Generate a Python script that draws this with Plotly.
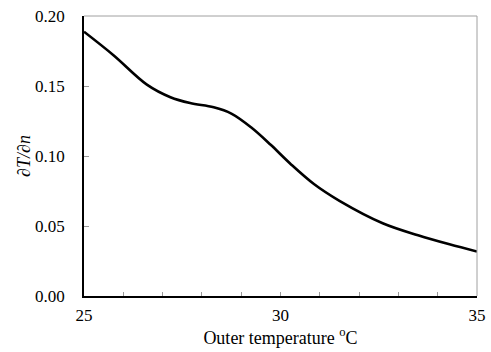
import plotly.graph_objects as go

temps = [25, 25.75, 26.6, 27.2, 27.7, 28.3, 28.75, 29.25, 29.75, 30.25, 30.85, 31.5, 32.6, 33.5, 34.3, 35]
dTdn = [0.1888, 0.172, 0.151, 0.142, 0.1378, 0.1348, 0.1303, 0.1205, 0.108, 0.0945, 0.0800, 0.0680, 0.0520, 0.0434, 0.0369, 0.0318]
x_ticks = [25, 30, 35]
y_ticks = [0.00, 0.05, 0.10, 0.15, 0.20]

font = "Liberation Serif"

fig = go.Figure()
fig.add_trace(go.Scatter(x=temps, y=dTdn, mode="lines",
                         line=dict(color="black", width=2.6, shape="spline", smoothing=1.0),
                         showlegend=False, hoverinfo="skip"))

fig.update_layout(
    width=491, height=352,
    margin=dict(l=84, r=14, t=16, b=56, autoexpand=False),
    paper_bgcolor="white", plot_bgcolor="white",
    font=dict(family=font, size=17, color="black"),
    xaxis=dict(range=[25, 35], tickvals=x_ticks, ticktext=[str(v) for v in x_ticks],
               tickfont=dict(family=font, size=17, color="black"),
               showgrid=False, zeroline=False, showline=True, linecolor="black", linewidth=1.6,
               ticks="inside", ticklen=4, tickcolor="#999999", tickwidth=1,
               minor=dict(dtick=1, ticks="inside", ticklen=4, tickcolor="#999999", tickwidth=1, showgrid=False),
               ticklabelstandoff=3, automargin=False,
               title=dict(text="Outer temperature <sup>o</sup>C", font=dict(family=font, size=18, color="black"), standoff=6)),
    yaxis=dict(range=[0, 0.2], tickvals=y_ticks, tickformat=".2f",
               tickfont=dict(family=font, size=17, color="black"),
               showgrid=False, zeroline=False, showline=True, linecolor="black", linewidth=1.6,
               ticks="inside", ticklen=5, tickcolor="#999999", tickwidth=1,
               ticklabelstandoff=14, automargin=False,
               title=dict(text="<i>∂T/∂n</i>", font=dict(family=font, size=18, color="black"), standoff=0)),
    shapes=[
        dict(type="line", xref="paper", yref="paper", x0=0, x1=1, y0=1, y1=1,
             line=dict(color="#a0a0a0", width=1)),
        dict(type="line", xref="paper", yref="paper", x0=1, x1=1, y0=0, y1=1,
             line=dict(color="#a0a0a0", width=1)),
    ],
)

fig.write_html("out.html")
